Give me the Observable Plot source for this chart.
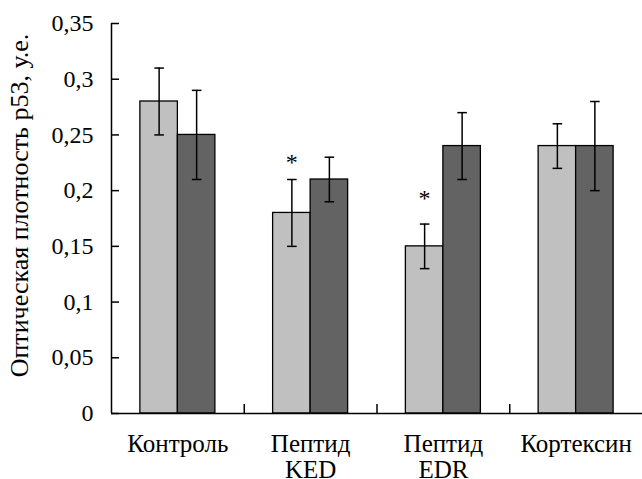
<!DOCTYPE html>
<html><head><meta charset="utf-8">
<script src="https://cdn.jsdelivr.net/npm/d3@7"></script>
<script src="https://cdn.jsdelivr.net/npm/@observablehq/plot@0.6"></script>
<style>body{margin:0;background:#fff}</style>
</head><body><div id="chart"></div>
<script>
const groups = ["Контроль", "Пептид\nKED", "Пептид\nEDR", "Кортексин"];
const valuesA = [0.28, 0.18, 0.15, 0.24];
const lowA = [0.25, 0.15, 0.13, 0.22];
const highA = [0.31, 0.21, 0.17, 0.26];
const valuesB = [0.25, 0.21, 0.24, 0.24];
const lowB = [0.21, 0.19, 0.21, 0.20];
const highB = [0.29, 0.23, 0.27, 0.28];
const starGroups = [1, 2];
const starLevels = [0.227, 0.195];
const yTicks = [0, 0.05, 0.1, 0.15, 0.2, 0.25, 0.3, 0.35];
const yTickLabels = ["0", "0,05", "0,1", "0,15", "0,2", "0,25", "0,3", "0,35"];
const yTitle = "Оптическая плотность р53, у.е.";

const barW = 0.2825, cap = 0.036;
const rows = [];
groups.forEach((g, i) => {
  rows.push({i, s: 0, value: valuesA[i], low: lowA[i], high: highA[i]});
  rows.push({i, s: 1, value: valuesB[i], low: lowB[i], high: highB[i]});
});
rows.forEach(d => { d.x1 = d.i + (d.s === 0 ? -barW : 0); d.x2 = d.x1 + barW; d.cx = d.x1 + barW / 2; });

const font = "Liberation Serif";
const chart = Plot.plot({
  width: 642, height: 479,
  marginLeft: 111, marginRight: 0, marginTop: 23, marginBottom: 66,
  style: {background: "#fff", color: "#000"},
  x: {type: "linear", domain: [-0.5, 3.5], axis: null},
  y: {domain: [0, 0.35], axis: null},
  marks: [
    Plot.rectY(rows, {x1: "x1", x2: "x2", y: "value", fill: d => d.s === 0 ? "#c0c0c0" : "#636363", stroke: "#000", strokeWidth: 1.3}),
    Plot.ruleX(rows, {x: "cx", y1: "low", y2: "high", stroke: "#000", strokeWidth: 1.5}),
    Plot.link(rows, {x1: d => d.cx - cap, x2: d => d.cx + cap, y1: "high", y2: "high", stroke: "#000", strokeWidth: 1.5}),
    Plot.link(rows, {x1: d => d.cx - cap, x2: d => d.cx + cap, y1: "low", y2: "low", stroke: "#000", strokeWidth: 1.5}),
    Plot.text(starGroups, {x: d => d - barW / 2, y: (d, k) => starLevels[k], text: () => "*", fontSize: 24, fontFamily: font, lineAnchor: "middle", dy: 2}),
    Plot.ruleY([0], {stroke: "#000", strokeWidth: 1.5}),
    Plot.ruleX([-0.5], {y1: 0, y2: 0.35, stroke: "#000", strokeWidth: 1.5}),
    Plot.axisY(yTicks, {anchor: "left", tickSize: -8, fill: "none", label: null, stroke: "#000", strokeWidth: 1.5}),
    Plot.text(yTicks, {frameAnchor: "left", y: d => d, text: d => yTickLabels[yTicks.indexOf(d)], textAnchor: "end", dx: -18, fontSize: 24, fontFamily: font, lineAnchor: "middle"}),
    Plot.axisX([0.5, 1.5, 2.5], {anchor: "bottom", tickSize: -9, fill: "none", label: null, stroke: "#000", strokeWidth: 1.5}),
    Plot.text(groups, {x: (d, i) => i, frameAnchor: "bottom", text: d => d, lineAnchor: "top", dy: 20, fontSize: 25, fontFamily: font, lineHeight: 1.04}),
    Plot.text([yTitle], {frameAnchor: "left", textAnchor: "middle", rotate: -90, dx: -92, dy: -13, fontSize: 26, fontFamily: font, lineAnchor: "middle"})
  ]
});
document.getElementById("chart").appendChild(chart);
</script>
</body></html>
